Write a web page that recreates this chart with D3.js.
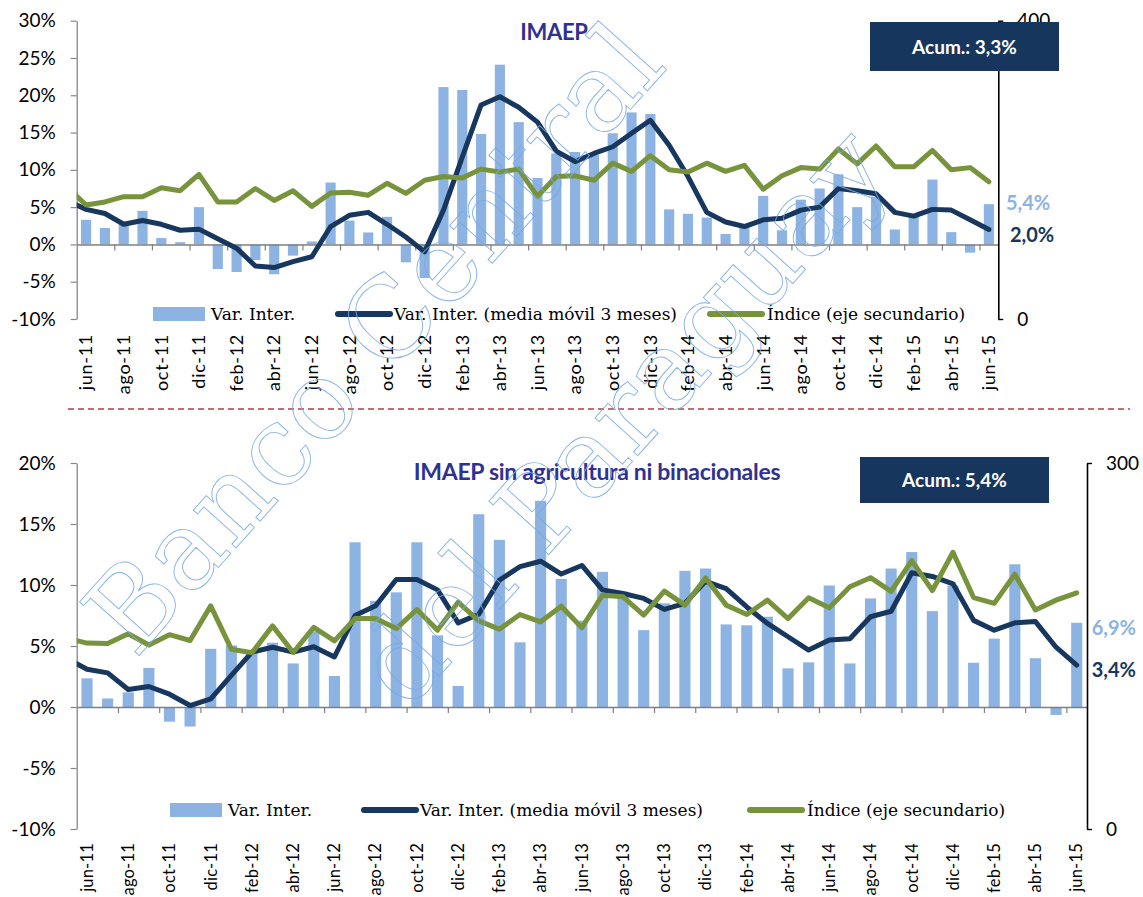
<!DOCTYPE html>
<html><head><meta charset="utf-8">
<script src="https://cdn.jsdelivr.net/npm/d3@7"></script>
<style>body{margin:0;background:#fff}</style>
</head><body>
<svg id="c" width="1143" height="897" xmlns="http://www.w3.org/2000/svg"></svg>
<script>
// ---------- DATA ----------
const months = ["jun-11","jul-11","ago-11","sep-11","oct-11","nov-11","dic-11",
  "ene-12","feb-12","mar-12","abr-12","may-12","jun-12","jul-12","ago-12","sep-12","oct-12","nov-12","dic-12",
  "ene-13","feb-13","mar-13","abr-13","may-13","jun-13","jul-13","ago-13","sep-13","oct-13","nov-13","dic-13",
  "ene-14","feb-14","mar-14","abr-14","may-14","jun-14","jul-14","ago-14","sep-14","oct-14","nov-14","dic-14",
  "ene-15","feb-15","mar-15","abr-15","may-15","jun-15"];
const seriesNames = ["Var. Inter.", "Var. Inter. (media móvil 3 meses)", "Índice (eje secundario)"];
const watermarkLines = ["Banco Central", "del Paraguay"];

// Panel 1: IMAEP
const imaepVar = [3.3,2.2,2.7,4.5,0.85,0.3,5.0,-3.3,-3.7,-2.1,-4.0,-1.5,0.4,8.3,3.2,1.6,3.7,-2.4,-4.5,
  21.1,20.7,14.8,24.1,16.4,8.9,12.2,12.4,12.0,14.9,17.7,17.5,4.7,4.1,3.6,1.4,2.4,6.5,1.9,6.0,7.5,9.4,5.0,6.4,2.0,3.7,8.7,1.65,-1.1,5.4];
const imaepMA = [4.7,4.15,2.7,3.2,2.7,1.9,2.05,0.76,-0.5,-2.9,-3.1,-2.3,-1.65,2.4,3.9,4.3,2.7,1.0,-1.0,4.6,
  11.7,18.7,19.8,18.4,16.4,12.5,11.1,12.2,13.1,14.9,16.65,13.3,9.1,4.3,3.0,2.4,3.3,3.5,4.6,5.0,
  7.5,7.2,6.8,4.3,3.8,4.7,4.6,3.3,2.0];
const imaepIdx = [152.9,157,164,164,176,172,194,157,157,175,159,172,151,169,170,166,182,168.5,186,191,
  189,201,197,201,164.5,191,192,186,209,198,219,200,197,209,198,206,174,192,203,201,
  228,208,232,204,204,226,200,203,184];
const imaepPrevMA = 5.84;   // may-11 (before axis start)
const imaepPrevIdx = 176.5;
const imaepAcum = "Acum.: 3,3%";
const imaepLeftTicks = [-10,-5,0,5,10,15,20,25,30];
const imaepRightTicks = [0,400];

// Panel 2: IMAEP sin agricultura ni binacionales
const sinVar = [2.35,0.7,1.2,3.2,-1.2,-1.6,4.77,5.05,4.6,5.27,3.57,6.2,2.54,13.5,8.7,9.4,13.5,5.87,1.72,
  15.8,13.7,5.3,16.9,10.5,7.07,11.08,9.44,6.3,8.5,11.16,11.35,6.77,6.7,7.4,3.17,3.66,9.96,3.57,8.9,11.35,
  12.7,7.86,9.95,3.63,5.6,11.7,4.0,-0.65,6.9];
const sinMA = [3.1,2.8,1.43,1.68,1.05,0.12,0.66,2.6,4.5,4.9,4.5,4.94,4.1,7.5,8.3,10.45,10.45,9.6,6.9,7.6,
  10.4,11.5,11.95,10.9,11.6,9.6,9.3,8.9,8.0,8.5,10.3,9.7,8.2,6.85,5.76,4.67,5.5,5.6,7.4,7.85,
  11.0,10.7,10.1,7.1,6.3,6.9,7.0,4.9,3.44];
const sinIdx = [152.4,152,160,150.8,159.3,154.5,182.9,147.4,144.5,166.5,144.7,165.2,154.2,172.5,172.5,164.3,179.9,163,185.9,170.6,
  163.8,175.8,169.8,182.6,165,191.6,190.3,175.3,195,183.5,205.8,183.5,175.8,187.6,172.5,189.5,181.3,198.5,206,194.8,
  220,195.5,226.8,189.7,184.9,208.8,179.5,187.6,193.6];
const sinPrevMA = 4.0;
const sinPrevIdx = 156.4;
const sinAcum = "Acum.: 5,4%";
const sinLeftTicks = [-10,-5,0,5,10,15,20];
const sinRightTicks = [0,300];

// ---------- STYLE ----------
const C = {bar:"#8db3e2", navy:"#17375e", green:"#77933c", title:"#2e3192", box:"#17365d", axis:"#868686"};
const sansFont = "Lato, 'Open Sans', sans-serif";
const serifFont = "'DejaVu Serif', serif";
const fmt = v => d3.format(".1f")(v).replace(".", ",") + "%";

const svg = d3.select("#c");
svg.append("rect").attr("width",1143).attr("height",897).attr("fill","#fff");

function panel(p) {
  const g = svg.append("g");
  const x = d3.scaleBand().domain(months).range([p.x0, p.x1]).paddingInner(0.46).paddingOuter(0.23);
  const step = x.step();
  const cx = i => p.x0 + (i + 0.5) * step;
  const xb = d3.scaleLinear().domain([0, months.length]).range([p.x0, p.x1]);
  const y = d3.scaleLinear().domain([p.leftTicks[0], p.leftTicks[p.leftTicks.length-1]]).range([p.yB, p.yT]);
  const y2 = d3.scaleLinear().domain([p.rightTicks[0], p.rightTicks[1]]).range([p.yB, p.yT]);

  const clipId = "clip" + p.id;
  svg.append("defs").append("clipPath").attr("id", clipId)
    .append("rect").attr("x", p.x0).attr("y", p.yT - 10).attr("width", p.x1 - p.x0).attr("height", p.yB - p.yT + 20);

  // bars
  g.append("g").selectAll("rect").data(p.bars).join("rect")
    .attr("x", (d,i) => x(months[i])).attr("width", x.bandwidth())
    .attr("y", d => y(Math.max(0, d))).attr("height", d => Math.abs(y(d) - y(0)))
    .attr("fill", C.bar);

  // category axis line at zero with ticks at boundaries
  const ax0 = g.append("g").attr("transform", `translate(0,${y(0)})`)
    .call(d3.axisBottom(xb).tickValues(d3.range(2, months.length, 2)).tickSize(6).tickSizeOuter(0).tickFormat(""));
  ax0.select(".domain").attr("stroke", "#7f7f7f").attr("stroke-width", 1.4);
  ax0.selectAll(".tick line").attr("stroke", "#7f7f7f").attr("stroke-width", 1.2);

  // category labels
  const axL = g.append("g").attr("transform", `translate(0,${p.yB})`)
    .call(d3.axisBottom(x).tickValues(months.filter((d,i) => i % 2 === 0)).tickSize(0));
  axL.select(".domain").remove();
  axL.selectAll("text").attr("font-family", sansFont).attr("font-size", p.catSize).attr("letter-spacing", p.catSpacing).attr("fill", "#000")
    .attr("text-anchor", "end").attr("transform", "rotate(-90)")
    .attr("x", -p.catOffset).attr("y", 0).attr("dy", "0.35em");

  // left axis
  const axY = g.append("g").attr("transform", `translate(${p.x0},0)`)
    .call(d3.axisLeft(y).tickValues(p.leftTicks).tickSize(6).tickSizeOuter(0).tickPadding(15).tickFormat(d => d + "%"));
  axY.select(".domain").attr("stroke", C.axis).attr("stroke-width", 1.3);
  axY.selectAll(".tick line").attr("stroke", C.axis).attr("stroke-width", 1.2);
  axY.selectAll("text").attr("font-family", sansFont).attr("font-size", 19).attr("fill", "#000");

  // lines (with the previous month entering from the left edge, clipped)
  const lineGen = sc => d3.line().x((d,i) => cx(i - 1)).y(d => sc(d));
  const lg = g.append("g").attr("clip-path", `url(#${clipId})`);
  lg.append("path").datum([p.prevMA, ...p.ma]).attr("d", lineGen(y))
    .attr("fill", "none").attr("stroke", C.navy).attr("stroke-width", 5).attr("stroke-linejoin", "round").attr("stroke-linecap", "round");
  lg.append("path").datum([p.prevIdx, ...p.idx]).attr("d", lineGen(y2))
    .attr("fill", "none").attr("stroke", C.green).attr("stroke-width", 5).attr("stroke-linejoin", "round").attr("stroke-linecap", "round");

  // right axis
  const axR = g.append("g").attr("transform", `translate(${p.x1},0)`)
    .call(d3.axisRight(y2).tickValues(p.rightTicks).tickSize(5).tickSizeOuter(0).tickPadding(14));
  axR.select(".domain").attr("stroke", "#000").attr("stroke-width", 1.6);
  axR.selectAll(".tick line").attr("stroke", "#000").attr("stroke-width", 1.4);
  axR.selectAll("text").attr("font-family", sansFont).attr("font-size", 19).attr("fill", "#000");

  // title
  g.append("text").attr("x", p.titleX).attr("y", p.titleY).attr("text-anchor", "middle")
    .attr("font-family", sansFont).attr("font-weight", 700).attr("font-size", p.titleSize).attr("fill", C.title)
    .attr("letter-spacing", -0.3).text(p.title);

  // acum box
  g.append("rect").attr("x", p.box[0]).attr("y", p.box[1]).attr("width", p.box[2]).attr("height", p.box[3]).attr("fill", C.box);
  g.append("text").attr("x", p.box[0] + p.box[2]/2).attr("y", p.box[1] + p.box[3]/2 + 7).attr("text-anchor", "middle")
    .attr("font-family", sansFont).attr("font-weight", 700).attr("font-size", 19).attr("fill", "#fff").text(p.acum);

  // end labels
  const last = months.length - 1;
  g.append("text").attr("x", cx(last) + p.lab1dx).attr("y", y(p.bars[last]) + p.lab1dy)
    .attr("font-family", sansFont).attr("font-weight", 700).attr("font-size", 20).attr("fill", C.bar).text(fmt(p.bars[last]));
  g.append("text").attr("x", cx(last) + p.lab2dx).attr("y", y(p.ma[last]) + p.lab2dy)
    .attr("font-family", sansFont).attr("font-weight", 700).attr("font-size", 20).attr("fill", C.navy).text(fmt(p.ma[last]));

  // legend
  const L = p.legend, ly = L.y;
  g.append("rect").attr("x", L.x[0]).attr("y", ly - 7).attr("width", 52).attr("height", 14).attr("fill", C.bar);
  g.append("line").attr("x1", L.x[1]).attr("x2", L.x[1] + 52).attr("y1", ly).attr("y2", ly)
    .attr("stroke", C.navy).attr("stroke-width", 6).attr("stroke-linecap", "round");
  g.append("line").attr("x1", L.x[2]).attr("x2", L.x[2] + 52).attr("y1", ly).attr("y2", ly)
    .attr("stroke", C.green).attr("stroke-width", 6).attr("stroke-linecap", "round");
  seriesNames.forEach((s, k) => {
    g.append("text").attr("x", L.x[k] + L.tx[k]).attr("y", ly + 6)
      .attr("font-family", serifFont).attr("font-size", 17).attr("fill", "#000").text(s);
  });
}

panel({id:1, x0:76.7, x1:998.3, yT:20.7, yB:319,
  bars:imaepVar, ma:imaepMA, idx:imaepIdx, prevMA:imaepPrevMA, prevIdx:imaepPrevIdx,
  leftTicks:imaepLeftTicks, rightTicks:imaepRightTicks,
  catSize:18, catSpacing:0.7, catOffset:15,
  title:"IMAEP", titleX:554, titleY:40, titleSize:22, acum:imaepAcum, box:[870,22,189,49],
  lab1dx:17, lab1dy:6, lab2dx:21, lab2dy:12,
  legend:{y:314, x:[153,338,710], tx:[58,56,57]}});

panel({id:2, x0:76.7, x1:1087, yT:463, yB:829,
  bars:sinVar, ma:sinMA, idx:sinIdx, prevMA:sinPrevMA, prevIdx:sinPrevIdx,
  leftTicks:sinLeftTicks, rightTicks:sinRightTicks,
  catSize:16.5, catSpacing:0.2, catOffset:14,
  title:"IMAEP sin agricultura ni binacionales", titleX:597, titleY:480, titleSize:23, acum:sinAcum, box:[860,457,189,46],
  lab1dx:15, lab1dy:12, lab2dx:15, lab2dy:12,
  legend:{y:810, x:[170,364,750], tx:[58,56,57]}});

// separator
svg.append("line").attr("x1", 68).attr("x2", 1130).attr("y1", 409).attr("y2", 409)
  .attr("stroke", "#b0413e").attr("stroke-width", 1.5).attr("stroke-dasharray", "6,4");

// watermark (outlined text, diagonal)
const wm = svg.append("g").attr("pointer-events", "none");
const wmPos = [[135, 660, -48], [407, 712, -48]];
watermarkLines.forEach((t, k) => {
  wm.append("text").attr("transform", `translate(${wmPos[k][0]},${wmPos[k][1]}) rotate(${wmPos[k][2]})`)
    .attr("font-family", serifFont).attr("font-size", 110)
    .attr("fill", "none").attr("stroke", "#7aaae6").attr("stroke-width", 0.9).attr("opacity", 0.9)
    .text(t);
});
</script>
</body></html>
